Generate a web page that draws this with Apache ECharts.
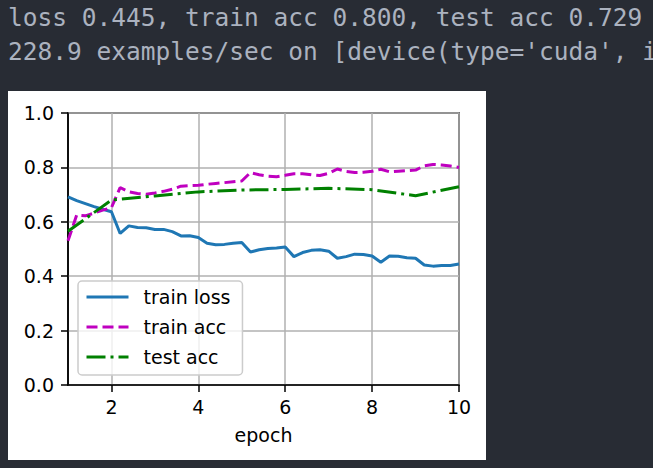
<!DOCTYPE html>
<html><head><meta charset="utf-8">
<script src="https://cdn.jsdelivr.net/npm/echarts@6/dist/echarts.min.js"></script>
<style>
html,body{margin:0;padding:0;width:653px;height:468px;overflow:hidden;background:#282c34;}
#log{position:absolute;left:8px;top:1px;margin:0;font-family:'DejaVu Sans Mono',monospace;font-size:24.5px;line-height:34px;color:#abb2bf;white-space:pre;}
#chart{position:absolute;left:8px;top:91px;width:478px;height:369px;background:#fff;}
</style></head><body>
<pre id="log">loss 0.445, train acc 0.800, test acc 0.729
228.9 examples/sec on [device(type='cuda', index=0)]</pre>
<div id="chart"></div>
<script>
const trainEpochs = [1.0,1.2,1.4,1.6,1.8,2.0,2.2,2.4,2.6,2.8,3.0,3.2,3.4,3.6,3.8,4.0,4.2,4.4,4.6,4.8,5.0,5.2,5.4,5.6,5.8,6.0,6.2,6.4,6.6,6.8,7.0,7.2,7.4,7.6,7.8,8.0,8.2,8.4,8.6,8.8,9.0,9.2,9.4,9.6,9.8,10.0];
const trainLoss = [0.692,0.678,0.667,0.656,0.646,0.637,0.557,0.585,0.579,0.578,0.572,0.572,0.564,0.548,0.549,0.542,0.521,0.516,0.517,0.521,0.524,0.489,0.497,0.502,0.504,0.507,0.472,0.487,0.495,0.497,0.492,0.466,0.472,0.481,0.480,0.474,0.451,0.474,0.473,0.468,0.466,0.441,0.437,0.439,0.439,0.445];
const trainAcc = [0.530,0.625,0.622,0.632,0.643,0.652,0.726,0.710,0.704,0.701,0.706,0.712,0.720,0.731,0.733,0.734,0.738,0.741,0.744,0.747,0.750,0.781,0.773,0.768,0.766,0.771,0.777,0.777,0.773,0.770,0.778,0.794,0.785,0.781,0.782,0.786,0.793,0.784,0.786,0.788,0.790,0.806,0.811,0.809,0.805,0.800];
const testEpochs = [1,2,3,4,5,6,7,8,9,10];
const testAcc = [0.565,0.680,0.695,0.710,0.717,0.719,0.723,0.718,0.696,0.729];
const xTicks = [2,4,6,8,10];
const seriesNames = ['train loss','train acc','test acc'];

const font = 'DejaVu Sans';
const fs = 19;
const chart = echarts.init(document.getElementById('chart'), null, {renderer:'svg'});
const zip = (xs, ys) => xs.map((x,i)=>[x, ys[i]]);
chart.setOption({
  animation:false,
  grid:{left:60, top:22, right:27, bottom:75, show:true, borderColor:'#000', borderWidth:1.5, backgroundColor:'transparent'},
  xAxis:{type:'value', min:1, max:10,
    name:'epoch', nameLocation:'middle', nameGap:40,
    nameTextStyle:{fontFamily:font, fontSize:fs, color:'#000'},
    axisLine:{show:true, lineStyle:{color:'#000', width:1.5}},
    axisTick:{show:true, length:7, lineStyle:{color:'#000', width:1.5}, customValues:xTicks},
    axisLabel:{customValues:xTicks, margin:12, fontFamily:font, fontSize:fs, color:'#000'},
    splitLine:{show:true, lineStyle:{color:'#b0b0b0', width:1.5}}},
  yAxis:{type:'value', min:0, max:1, interval:0.2,
    axisLine:{show:true, lineStyle:{color:'#000', width:1.5}},
    axisTick:{show:true, length:7, lineStyle:{color:'#000', width:1.5}},
    axisLabel:{margin:14, fontFamily:font, fontSize:fs, color:'#000', formatter:v=>v.toFixed(1)},
    splitLine:{show:true, lineStyle:{color:'#b0b0b0', width:1.5}}},
  legend:{
    left:70, top:190, orient:'vertical',
    itemWidth:42, itemHeight:14, itemGap:10,
    padding:[6,12,8,7],
    backgroundColor:'rgba(255,255,255,0.8)', borderColor:'#cccccc', borderWidth:1.5, borderRadius:4,
    itemStyle:{opacity:0},
    lineStyle:{width:3},
    textStyle:{fontFamily:font, fontSize:fs, color:'#000', lineHeight:20, padding:[0,0,0,10]},
    data:seriesNames
  },
  series:[
    {name:seriesNames[0], type:'line', data:zip(trainEpochs, trainLoss), symbol:'none',
     lineStyle:{color:'#1f77b4', width:3}, itemStyle:{color:'#1f77b4'}},
    {name:seriesNames[1], type:'line', data:zip(trainEpochs, trainAcc), symbol:'none',
     lineStyle:{color:'#bf00bf', width:3, type:[11,5]}, itemStyle:{color:'#bf00bf'}},
    {name:seriesNames[2], type:'line', data:zip(testEpochs, testAcc), symbol:'none',
     lineStyle:{color:'#008000', width:3, type:[19,5,3,5]}, itemStyle:{color:'#008000'}}
  ]
});
</script>
</body></html>
